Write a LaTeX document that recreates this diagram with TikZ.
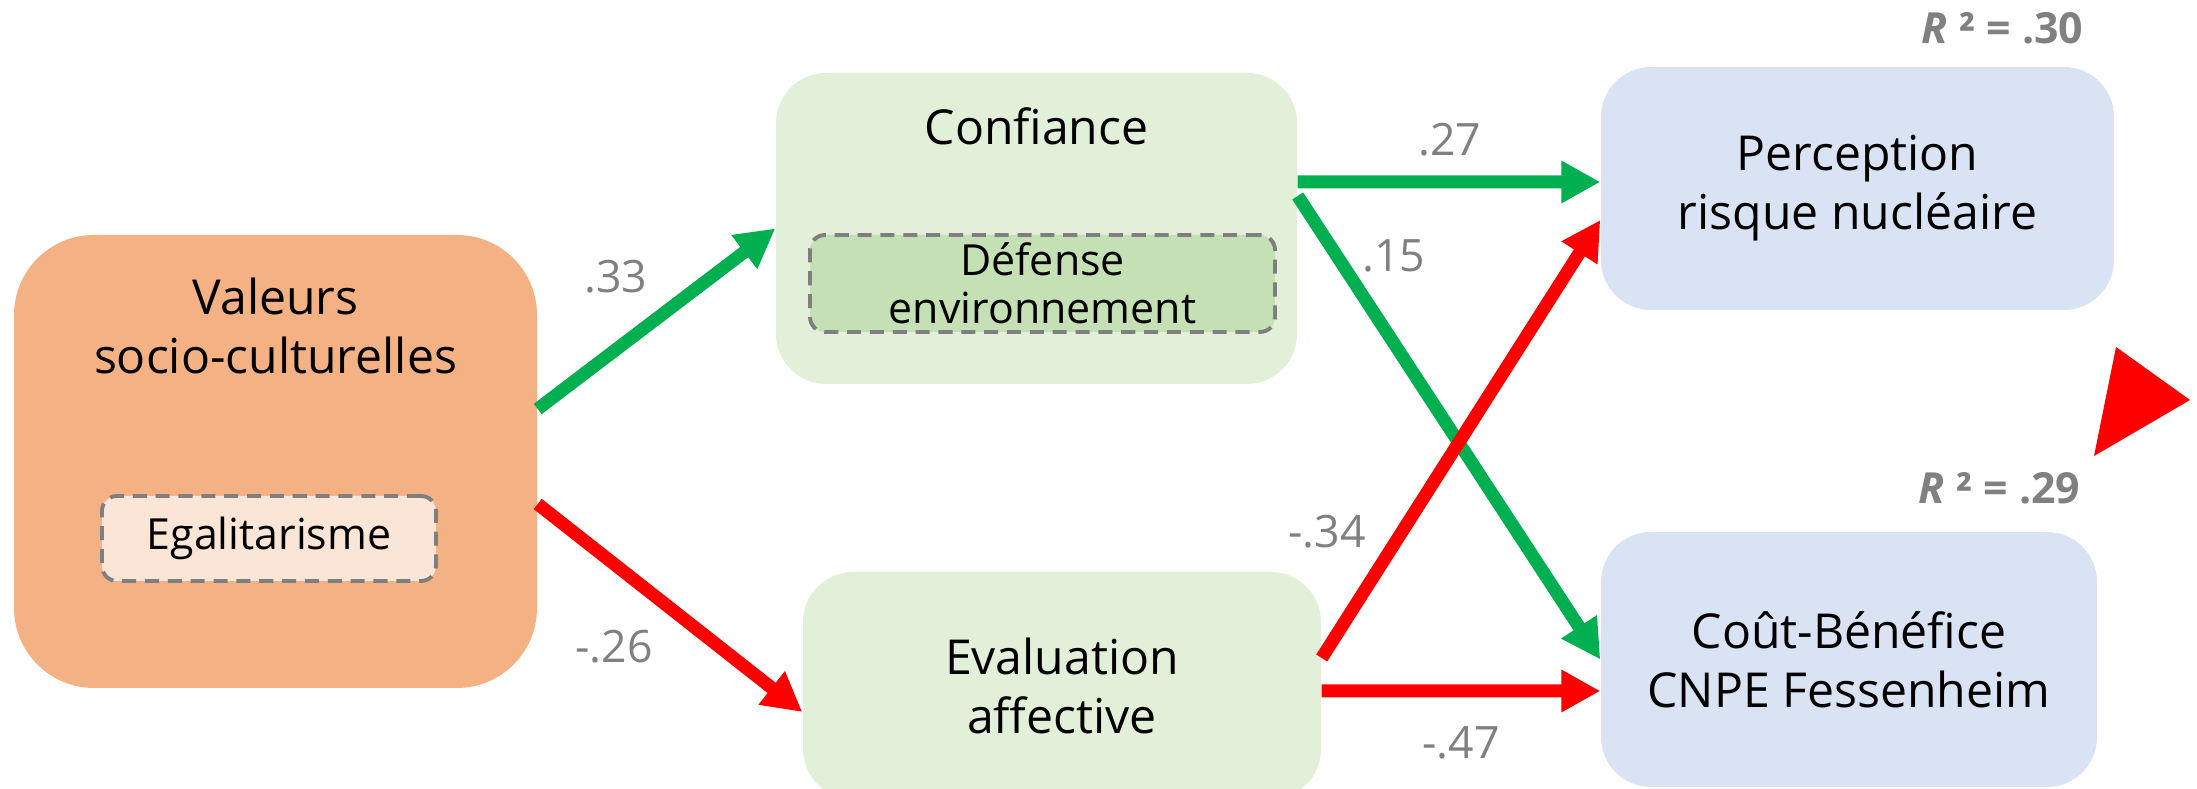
\documentclass[tikz,border=0pt]{standalone}
\usepackage{fontspec}
\setmainfont{Open Sans}
\usetikzlibrary{arrows.meta}
\definecolor{orangebox}{HTML}{F4B183}
\definecolor{egafill}{HTML}{FBE5D6}
\definecolor{greenbox}{HTML}{E2F0D9}
\definecolor{defill}{HTML}{C5E0B4}
\definecolor{bluebox}{HTML}{DAE3F3}
\definecolor{dashgray}{HTML}{7F7F7F}
\definecolor{coefgray}{HTML}{808080}
\definecolor{arrgreen}{HTML}{00B050}
\definecolor{arrred}{HTML}{FF0000}
\tikzset{
  box/.style={rounded corners=0.5cm, inner sep=0pt, align=center},
  subbox/.style={draw=dashgray, dash pattern=on 4pt off 2.5pt, line width=1.1pt,
    rounded corners=0.15cm, inner sep=0pt, align=center, font=\fontsize{12.2}{13.6}\selectfont},
  posarrow/.style={draw=arrgreen, line width=3.7pt, -{Triangle[length=0.39cm,width=0.4cm]}},
  negarrow/.style={draw=arrred, line width=3.7pt, -{Triangle[length=0.39cm,width=0.4cm]}},
  coef/.style={text=coefgray, font=\fontsize{12.7}{15}\selectfont},
  rsq/.style={text=coefgray, anchor=east, inner sep=0pt, font=\fontsize{12.2}{15}\selectfont\bfseries},
}

\begin{document}
\begin{tikzpicture}[font=\fontsize{13.7}{16.8}\selectfont]
\useasboundingbox (0,0) rectangle (21.97,7.89);

% boxes
\node[box, fill=orangebox, rounded corners=0.8cm, minimum width=5.23cm, minimum height=4.53cm] (val) at (2.755,3.275) {};
\node[align=center] (valtxt) at (2.755,4.63) {Valeurs\\socio-culturelles};
\node[subbox, fill=egafill, minimum width=3.34cm, minimum height=0.85cm] (ega) at (2.69,2.505) {Egalitarisme};

\node[box, fill=greenbox, minimum width=5.21cm, minimum height=3.11cm] (conf) at (10.365,5.605) {};
\node (conftxt) at (10.365,6.63) {Confiance};
\node[subbox, fill=defill, minimum width=4.65cm, minimum height=0.97cm] (def) at (10.425,5.055) {D\'efense\\environnement};

\node[box, fill=greenbox, minimum width=5.18cm, minimum height=2.27cm] (eval) at (10.62,1.035) {Evaluation\\affective};

\node[box, fill=bluebox, minimum width=5.13cm, minimum height=2.43cm] (perc) at (18.575,6.005) {Perception\\risque nucl\'eaire};
\node[box, fill=bluebox, minimum width=4.96cm, minimum height=2.55cm] (cout) at (18.49,1.295) {Co\^ut-B\'en\'efice\\CNPE Fessenheim};

\node[rsq] (rperc) at (20.84,7.61) {\textit{R} ² = .30};
\node[rsq] (rcout) at (20.81,3.01) {\textit{R} ² = .29};

\fill[arrred] (21.16,4.42) -- (21.90,3.89) -- (20.94,3.33) -- cycle;

% paths
\draw[posarrow] ([yshift=0.525cm]val.east) -- (conf.west);
\draw[negarrow] ([yshift=-0.425cm]val.east) -- ([yshift=-0.265cm]eval.west);
\draw[posarrow] ([yshift=0.465cm]conf.east) -- ([yshift=0.065cm]perc.west);
\draw[posarrow] ([yshift=0.325cm]conf.east) -- (cout.west);
\draw[negarrow] ([yshift=0.275cm]eval.east) -- ([yshift=-0.315cm]perc.west);
\draw[negarrow] ([yshift=-0.055cm]eval.east) -- ([yshift=-0.315cm]cout.west);

\node[coef] (c33) at (6.16,5.12) {.33};
\node[coef] (c26) at (6.14,1.42) {-.26};
\node[coef] (c27) at (14.50,6.49) {.27};
\node[coef] (c15) at (13.94,5.33) {.15};
\node[coef] (c34) at (13.27,2.57) {-.34};
\node[coef] (c47) at (14.61,0.46) {-.47};
\end{tikzpicture}
\end{document}
